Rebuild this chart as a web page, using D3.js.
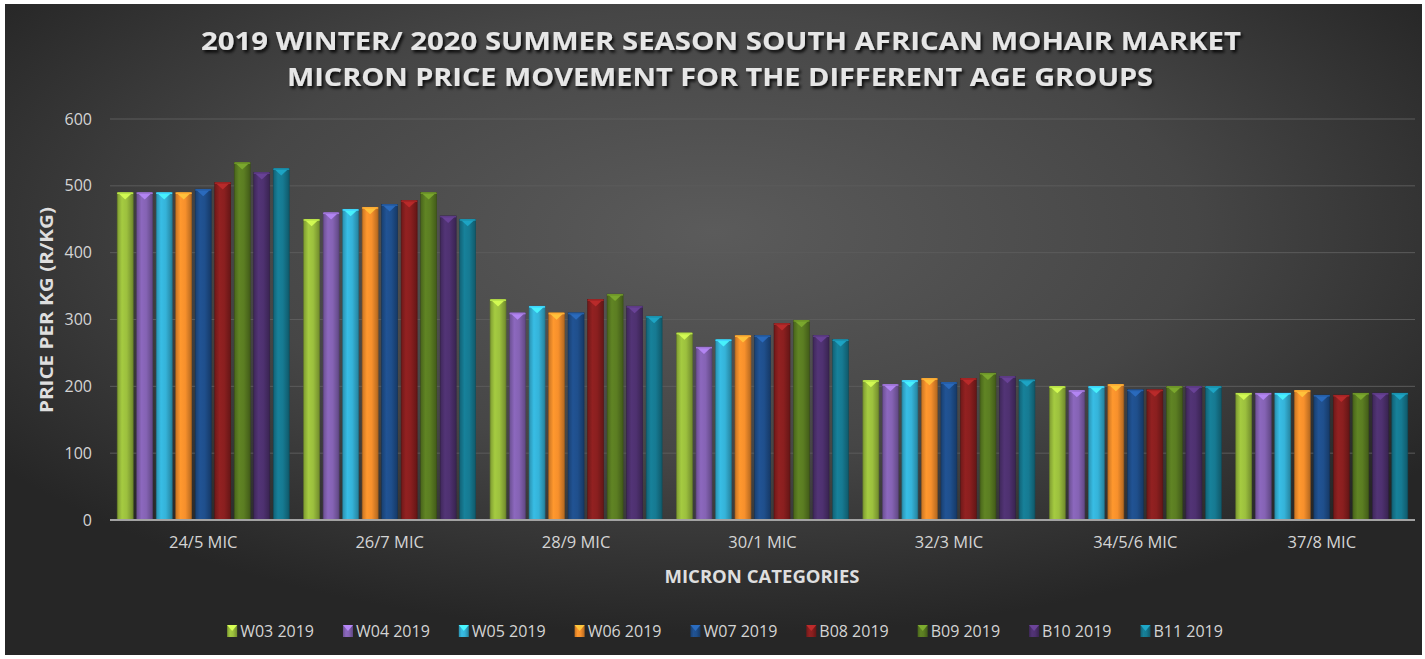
<!DOCTYPE html>
<html>
<head>
<meta charset="utf-8">
<script src="https://cdn.jsdelivr.net/npm/d3@7"></script>
<style>
  body { margin: 0; background: #fff; }
  svg text { font-family: "Open Sans", "DejaVu Sans", sans-serif; }
</style>
</head>
<body>
<div id="chart"></div>
<script>
// values
var categories = ["24/5 MIC", "26/7 MIC", "28/9 MIC", "30/1 MIC", "32/3 MIC", "34/5/6 MIC", "37/8 MIC"];
var seriesNames = ["W03 2019", "W04 2019", "W05 2019", "W06 2019", "W07 2019", "B08 2019", "B09 2019", "B10 2019", "B11 2019"];
var seriesColors = ["#9cc03e", "#8563b4", "#35b3d9", "#f7902c", "#1f4f8c", "#8a1f1f", "#5b7d22", "#4e3170", "#167a92"];
var w03 = [490, 450, 330, 280, 209, 200, 190];
var w04 = [490, 460, 310, 259, 203, 194, 190];
var w05 = [490, 465, 320, 270, 209, 200, 190];
var w06 = [490, 468, 310, 276, 212, 203, 194];
var w07 = [495, 472, 310, 276, 206, 195, 187];
var b08 = [505, 478, 330, 294, 212, 195, 187];
var b09 = [535, 490, 338, 299, 220, 200, 190];
var b10 = [520, 455, 320, 276, 215, 200, 190];
var b11 = [526, 450, 305, 270, 210, 200, 190];
var yTicks = [0, 100, 200, 300, 400, 500, 600];

var seriesValues = [w03, w04, w05, w06, w07, b08, b09, b10, b11];

var width = 1425, height = 659;
var svg = d3.select("#chart").append("svg")
    .attr("width", width)
    .attr("height", height);

var defs = svg.append("defs");

// background
var bg = defs.append("radialGradient").attr("id", "bg")
    .attr("cx", "50%").attr("cy", "35%").attr("r", "62%");
bg.append("stop").attr("offset", "0%").attr("stop-color", "#5b5b5b");
bg.append("stop").attr("offset", "55%").attr("stop-color", "#464646");
bg.append("stop").attr("offset", "100%").attr("stop-color", "#262626");

var shadow = defs.append("filter").attr("id", "shadow")
    .attr("x", "-5%").attr("y", "-20%").attr("width", "110%").attr("height", "150%");
shadow.append("feDropShadow").attr("dx", 2).attr("dy", 2.5).attr("stdDeviation", 1.6)
    .attr("flood-color", "#000").attr("flood-opacity", 0.85);

seriesColors.forEach(function(c, i) {
  var g = defs.append("linearGradient").attr("id", "bar" + i)
      .attr("x1", "0%").attr("x2", "100%").attr("y1", "0%").attr("y2", "0%");
  g.append("stop").attr("offset", "0%").attr("stop-color", d3.color(c).darker(0.6));
  g.append("stop").attr("offset", "30%").attr("stop-color", d3.color(c).brighter(0.15));
  g.append("stop").attr("offset", "60%").attr("stop-color", c);
  g.append("stop").attr("offset", "100%").attr("stop-color", d3.color(c).darker(0.9));
});

svg.append("rect")
    .attr("x", 5).attr("y", 4)
    .attr("width", 1417).attr("height", 651)
    .attr("fill", "url(#bg)");

var margin = {left: 110, right: 1415, top: 119, bottom: 520};

var x0 = d3.scaleBand()
    .domain(categories)
    .range([margin.left, margin.right])
    .paddingInner(0.077)
    .paddingOuter(0.0385);

var x1 = d3.scaleBand()
    .domain(d3.range(seriesNames.length))
    .range([0, x0.bandwidth()])
    .paddingInner(0.18);

var y = d3.scaleLinear()
    .domain([0, 600])
    .range([margin.bottom, margin.top]);

// gridlines
svg.append("g")
  .selectAll("line")
  .data(yTicks.slice(1))
  .enter().append("line")
    .attr("x1", margin.left).attr("x2", margin.right)
    .attr("y1", function(d) { return y(d); })
    .attr("y2", function(d) { return y(d); })
    .attr("stroke", "#5c5c5c")
    .attr("stroke-width", 1);

// y axis
var yAxis = svg.append("g")
    .attr("transform", "translate(" + margin.left + ",0)")
    .call(d3.axisLeft(y).tickValues(yTicks).tickSize(0).tickPadding(18));
yAxis.select(".domain").remove();
yAxis.selectAll("text")
    .attr("fill", "#d4d4d4")
    .style("font-size", "16px");

// bars
var groups = svg.append("g")
  .selectAll("g")
  .data(categories)
  .enter().append("g")
    .attr("transform", function(d) { return "translate(" + x0(d) + ",0)"; });

var bars = groups.selectAll("g.bar")
  .data(function(d, ci) {
    return seriesValues.map(function(vals, si) { return {s: si, v: vals[ci]}; });
  })
  .enter().append("g").attr("class", "bar");

var bw = x1.bandwidth();

bars.append("rect")
    .attr("x", function(d) { return x1(d.s); })
    .attr("y", function(d) { return y(d.v); })
    .attr("width", bw)
    .attr("height", function(d) { return y(0) - y(d.v); })
    .attr("fill", function(d) { return "url(#bar" + d.s + ")"; })
    .attr("stroke", function(d) { return d3.color(seriesColors[d.s]).darker(1.3); })
    .attr("stroke-width", 0.6);

// bevel cap on top of each bar
bars.append("path")
    .attr("d", function(d) {
      var x = x1(d.s), t = y(d.v);
      return "M" + (x + 0.5) + "," + t + "L" + (x + bw - 0.5) + "," + t + "L" + (x + bw / 2) + "," + (t + 7) + "Z";
    })
    .attr("fill", function(d) { return d3.color(seriesColors[d.s]).brighter(0.9); })
    .attr("opacity", 0.9);

bars.append("rect")
    .attr("x", function(d) { return x1(d.s); })
    .attr("y", function(d) { return y(d.v); })
    .attr("width", bw)
    .attr("height", 1.5)
    .attr("fill", function(d) { return d3.color(seriesColors[d.s]).brighter(0.5); });

// x axis line
svg.append("line")
    .attr("x1", margin.left).attr("x2", margin.right)
    .attr("y1", y(0)).attr("y2", y(0))
    .attr("stroke", "#a3a3a3")
    .attr("stroke-width", 2);

var xAxis = svg.append("g")
    .attr("transform", "translate(0," + y(0) + ")")
    .call(d3.axisBottom(x0).tickSize(0).tickPadding(16));
xAxis.select(".domain").remove();
xAxis.selectAll("text")
    .attr("fill", "#d4d4d4")
    .style("font-size", "16.5px");

// titles
var title = svg.append("g").attr("filter", "url(#shadow)");
title.append("text")
    .attr("x", 721).attr("y", 50)
    .attr("text-anchor", "middle")
    .attr("fill", "#e6e6e6")
    .style("font-size", "25.5px").style("font-weight", "bold")
    .attr("textLength", 1040).attr("lengthAdjust", "spacingAndGlyphs")
    .text("2019 WINTER/ 2020 SUMMER SEASON SOUTH AFRICAN MOHAIR MARKET");
title.append("text")
    .attr("x", 720).attr("y", 86)
    .attr("text-anchor", "middle")
    .attr("fill", "#e6e6e6")
    .style("font-size", "25.5px").style("font-weight", "bold")
    .attr("textLength", 866).attr("lengthAdjust", "spacingAndGlyphs")
    .text("MICRON PRICE MOVEMENT FOR THE DIFFERENT AGE GROUPS");

svg.append("text")
    .attr("transform", "translate(53,310) rotate(-90)")
    .attr("text-anchor", "middle")
    .attr("fill", "#dedede")
    .style("font-size", "17px").style("font-weight", "bold")
    .attr("textLength", 206).attr("lengthAdjust", "spacingAndGlyphs")
    .text("PRICE PER KG (R/KG)");

svg.append("text")
    .attr("x", 762).attr("y", 583)
    .attr("text-anchor", "middle")
    .attr("fill", "#dedede")
    .style("font-size", "17px").style("font-weight", "bold")
    .attr("textLength", 195).attr("lengthAdjust", "spacingAndGlyphs")
    .text("MICRON CATEGORIES");

// legend
var legend = svg.append("g");
var items = legend.selectAll("g")
  .data(seriesNames)
  .enter().append("g");
items.append("rect")
    .attr("x", 0).attr("y", -6)
    .attr("width", 10).attr("height", 12)
    .attr("fill", function(d, i) { return "url(#bar" + i + ")"; });
items.append("path")
    .attr("d", "M0,-6L10,-6L5,0Z")
    .attr("fill", function(d, i) { return d3.color(seriesColors[i]).brighter(0.9); });
items.append("text")
    .attr("x", 13).attr("y", 5.5)
    .attr("fill", "#d4d4d4")
    .style("font-size", "16px")
    .text(function(d) { return d; });

var pos = 0, gap = 29, offsets = [];
items.each(function() {
  offsets.push(pos);
  pos += this.getBBox().width + gap;
});
var total = pos - gap;
var start = 725 - total / 2;
items.attr("transform", function(d, i) { return "translate(" + (start + offsets[i]) + ",631)"; });
</script>
</body>
</html>
